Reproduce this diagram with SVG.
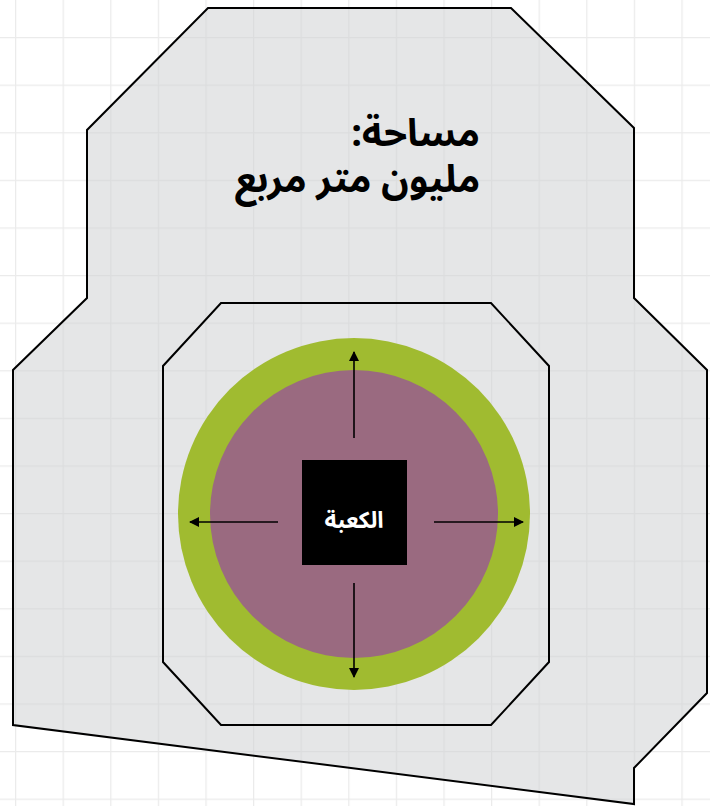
<svg xmlns="http://www.w3.org/2000/svg" width="710" height="806" viewBox="0 0 710 806">
<defs>
<pattern id="grid" x="15" y="37" width="47.6" height="47.6" patternUnits="userSpaceOnUse">
<path d="M0 0V47.6M0 0H47.6" fill="none" stroke="#ebebeb" stroke-width="2.5"/>
</pattern>
<marker id="ah" viewBox="0 0 10 10" refX="9" refY="5" markerWidth="10" markerHeight="10" markerUnits="userSpaceOnUse" orient="auto">
<path d="M0 0L10 5L0 10Z" fill="#000"/>
</marker>
<style>
.outline{fill:none;stroke:#000;stroke-width:2;stroke-linejoin:miter}
.arr{stroke:#000;stroke-width:1.6;fill:none;marker-end:url(#ah)}
.title{font-family:"Noto Sans Arabic","DejaVu Sans",sans-serif;font-weight:bold;font-size:38px;fill:#000;text-anchor:start}
.lbl{font-family:"Noto Sans Arabic","DejaVu Sans",sans-serif;font-weight:bold;font-size:23px;fill:#fff;text-anchor:middle}
</style>
</defs>
<rect width="710" height="806" fill="#fff"/>
<rect width="710" height="806" fill="url(#grid)"/>
<g id="site">
<path d="M208 8H511L634 128V298L707 370V693L634 768V804L13 725V370L87 298V130Z" fill="#cfd1d4" fill-opacity="0.55" stroke="#000" stroke-width="2"/>
<text class="title" x="480" y="146" direction="rtl">مساحة:</text>
<text class="title" x="480" y="192" direction="rtl">مليون متر مربع</text>
</g>
<g id="mosque">
<path class="outline" d="M221 303H491L549 366V662L491 725H221L163 662V366Z"/>
</g>
<g id="outer-ring"><circle cx="354" cy="514" r="176" fill="#a0bb30"/></g>
<g id="inner-ring"><circle cx="354" cy="514" r="144" fill="#9a6a80"/></g>
<g id="kaaba">
<rect x="302" y="460" width="105" height="105" fill="#000"/>
<text class="lbl" x="354" y="528" direction="rtl">الكعبة</text>
</g>
<g id="connectors">
<line class="arr" x1="354" y1="438" x2="354" y2="352"/>
<line class="arr" x1="354" y1="583" x2="354" y2="677"/>
<line class="arr" x1="278" y1="522" x2="190" y2="522"/>
<line class="arr" x1="434" y1="522" x2="523" y2="522"/>
</g>
</svg>
